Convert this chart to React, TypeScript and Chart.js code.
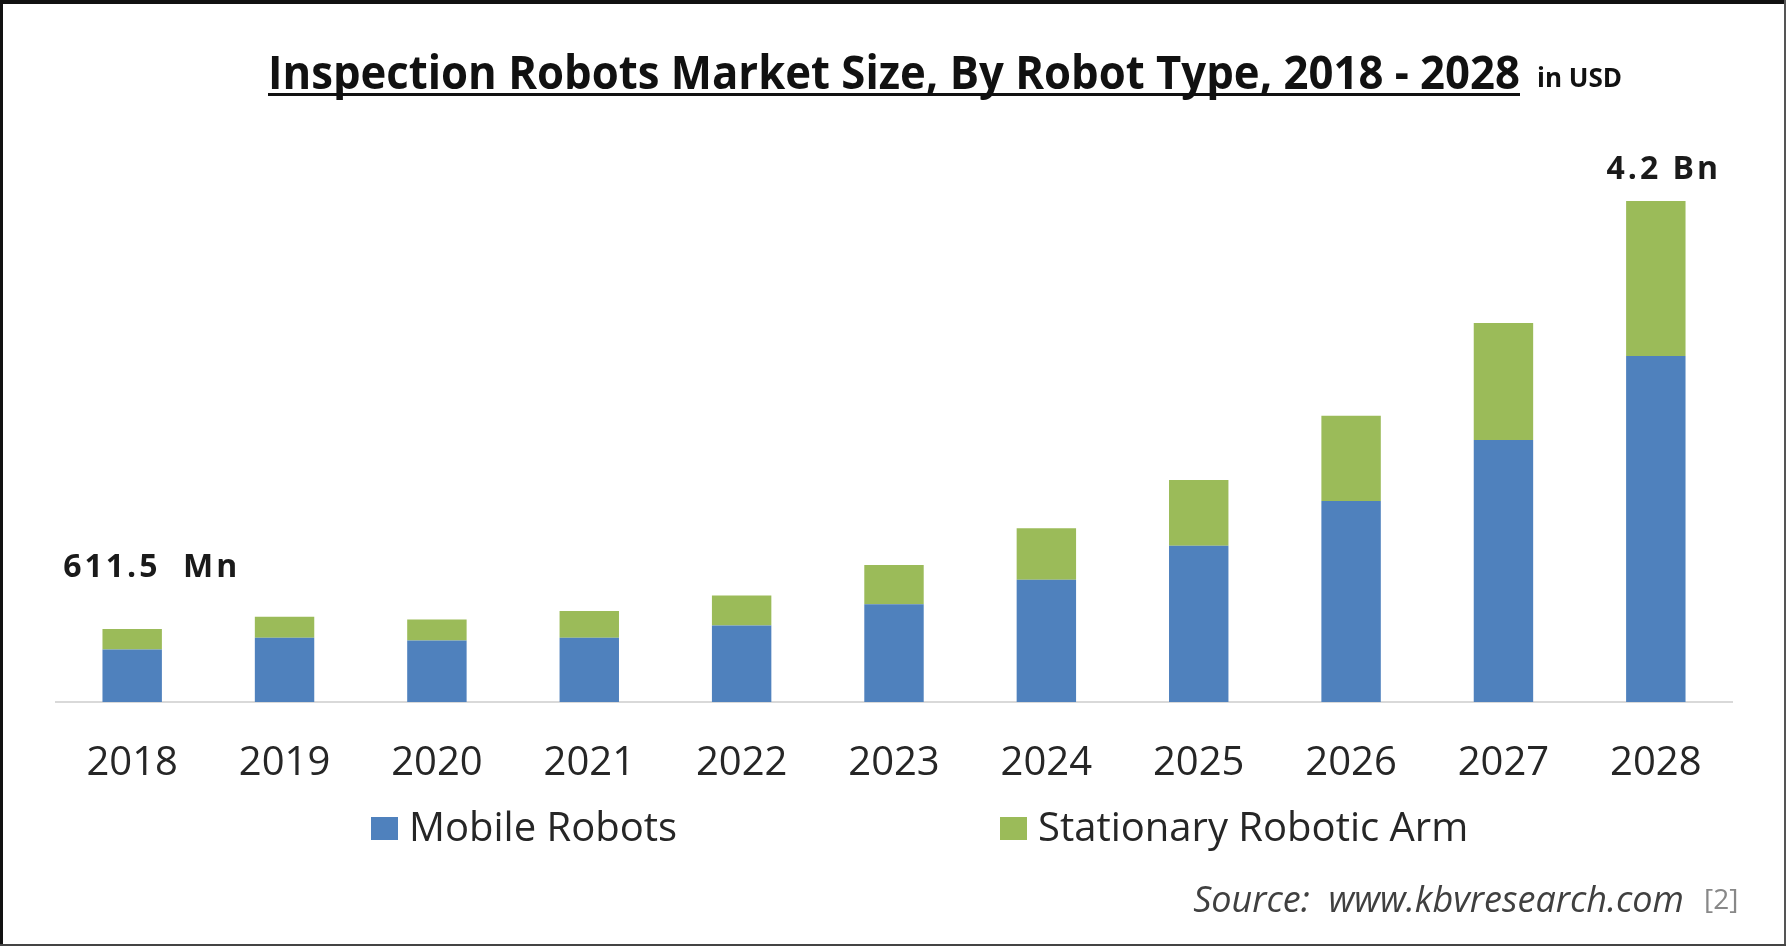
import React, { useEffect, useRef } from 'react';
import { Chart, registerables } from 'chart.js';

Chart.register(...registerables);

const categories = ['2018', '2019', '2020', '2021', '2022', '2023', '2024', '2025', '2026', '2027', '2028'];
const mobileRobots = [440, 538, 516, 538, 642, 820, 1024, 1309, 1685, 2196, 2901];
const stationaryArm = [171.5, 176, 176, 224, 251, 329, 432, 552, 714, 981, 1299];
const seriesNames = ['Mobile Robots', 'Stationary Robotic Arm'];
const seriesColors = ['#4F81BD', '#9BBB59'];
const endLabels = ['611.5  Mn', '', '', '', '', '', '', '', '', '', '4.2 Bn'];
const titleText = 'Inspection Robots Market Size, By Robot Type, 2018 - 2028';
const unitText = 'in USD';
const sourceText = 'Source:  www.kbvresearch.com';
const refText = '[2]';

const W = 1786;
const H = 946;

const overlayPlugin = {
  id: 'overlayTexts',
  afterDraw(chart: any) {
    const ctx: CanvasRenderingContext2D = chart.ctx;
    ctx.save();
    ctx.textBaseline = 'alphabetic';
    ctx.textAlign = 'left';

    // Title
    ctx.fillStyle = '#111111';
    ctx.font = 'bold 46px "Open Sans"';
    const maxTitle = 1252;
    const tw = Math.min(ctx.measureText(titleText).width, maxTitle);
    ctx.fillText(titleText, 268, 89, maxTitle);
    ctx.fillRect(268, 93, tw, 3);
    ctx.font = 'bold 26px "Open Sans"';
    ctx.fillText(unitText, 1537, 87);

    // End labels
    const meta = chart.getDatasetMeta(1);
    ctx.font = 'bold 32px "Open Sans"';
    (ctx as any).letterSpacing = '3px';
    ctx.fillStyle = '#1a1a1a';
    endLabels.forEach((t, i) => {
      if (!t) return;
      const el = meta.data[i];
      if (!el) return;
      if (i === 0) {
        ctx.textAlign = 'left';
        ctx.fillText(t, el.x - 69, el.y - 52);
      } else {
        ctx.textAlign = 'center';
        ctx.fillText(t, el.x + 8, el.y - 22);
      }
    });
    (ctx as any).letterSpacing = '0px';

    // Legend
    const legendBoxX = [371, 1000];
    ctx.textAlign = 'left';
    ctx.font = '40px "Open Sans"';
    chart.data.datasets.forEach((ds: any, i: number) => {
      const bx = legendBoxX[i];
      ctx.fillStyle = ds.backgroundColor;
      ctx.fillRect(bx, 817, 27, 23);
      ctx.fillStyle = '#262626';
      ctx.fillText(ds.label, bx + 38, 841);
    });

    // Source
    ctx.font = 'italic 36px "Open Sans"';
    ctx.fillStyle = '#404040';
    ctx.textAlign = 'right';
    ctx.fillText(sourceText, 1684, 912);
    ctx.font = '28px "Open Sans"';
    ctx.fillStyle = '#888888';
    ctx.textAlign = 'left';
    ctx.fillText(refText, 1704, 909);

    ctx.restore();
  },
};

export default function App() {
  const canvasRef = useRef<HTMLCanvasElement | null>(null);

  useEffect(() => {
    document.body.style.margin = '0';
    const canvas = canvasRef.current;
    if (!canvas) return;
    const chart = new Chart(canvas, {
      type: 'bar',
      data: {
        labels: categories,
        datasets: [
          {
            label: seriesNames[0],
            data: mobileRobots,
            backgroundColor: seriesColors[0],
            borderWidth: 0,
            barPercentage: 0.39,
            categoryPercentage: 1.0,
          },
          {
            label: seriesNames[1],
            data: stationaryArm,
            backgroundColor: seriesColors[1],
            borderWidth: 0,
            barPercentage: 0.39,
            categoryPercentage: 1.0,
          },
        ],
      },
      options: {
        responsive: false,
        animation: false,
        devicePixelRatio: 1,
        layout: {
          padding: { left: 56, right: 54, top: 105.5, bottom: 120 },
        },
        plugins: {
          legend: { display: false },
          title: { display: false },
          tooltip: { enabled: false },
        },
        scales: {
          x: {
            stacked: true,
            grid: { display: true, drawOnChartArea: false, drawTicks: false },
            border: { display: true, color: '#d9d9d9', width: 2 },
            ticks: {
              padding: 38,
              color: '#262626',
              font: { family: '"Open Sans"', size: 40 },
            },
          },
          y: {
            stacked: true,
            display: false,
            min: 0,
            max: 5000,
          },
        },
      },
      plugins: [overlayPlugin],
    });
    return () => chart.destroy();
  }, []);

  return (
    <div style={{ position: 'relative', width: W, height: H, background: '#ffffff', overflow: 'hidden' }}>
      <canvas ref={canvasRef} width={W} height={H} style={{ position: 'absolute', left: 0, top: 0, width: W, height: H }} />
      <div style={{ position: 'absolute', left: 0, top: 0, width: W, height: 4, background: '#111' }} />
      <div style={{ position: 'absolute', left: 0, top: 0, width: 3, height: H, background: '#111' }} />
      <div style={{ position: 'absolute', right: 0, top: 0, width: 2, height: H, background: '#555' }} />
      <div style={{ position: 'absolute', left: 0, bottom: 0, width: W, height: 2, background: '#444' }} />
    </div>
  );
}
